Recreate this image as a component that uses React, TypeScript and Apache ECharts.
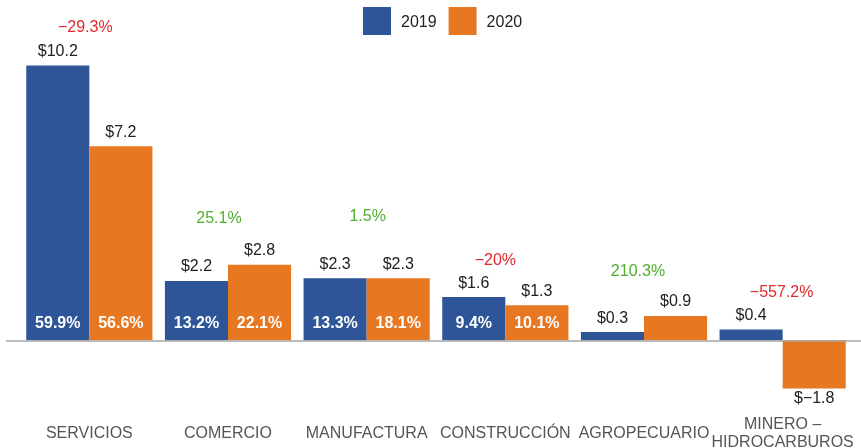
import React, { useEffect, useRef } from "react";
import * as echarts from "echarts";

const categories = ["SERVICIOS", "COMERCIO", "MANUFACTURA", "CONSTRUCCIÓN", "AGROPECUARIO", "MINERO –\nHIDROCARBUROS"];
const values2019 = [10.2, 2.2, 2.3, 1.6, 0.3, 0.4];
const values2020 = [7.2, 2.8, 2.3, 1.3, 0.9, -1.8];
const share2019: (number | null)[] = [59.9, 13.2, 13.3, 9.4, null, null];
const share2020: (number | null)[] = [56.6, 22.1, 18.1, 10.1, null, null];
const changePct = [-29.3, 25.1, 1.5, -20, 210.3, -557.2];
const seriesNames = ["2019", "2020"];

// styling (pixel tweaks for the change labels)
const changeDx = [-4, -9, 1, -10, -6, -1];
const changeDy = [39, 47, 63, 38, 45, 38];

const FONT = '"Liberation Sans", Arial, sans-serif';
const BLUE = "#2E5597";
const ORANGE = "#E87722";
const RED = "#E0282E";
const GREEN = "#4FAE2E";
const GAP = 0.09;

const fmtMoney = (v: number) => "$" + (v < 0 ? "−" + Math.abs(v).toFixed(1) : v.toFixed(1));
const fmtChange = (v: number) => (v < 0 ? "−" : "") + String(Math.abs(v)) + "%";

export default function App() {
  const ref = useRef<HTMLDivElement>(null);
  useEffect(() => {
    if (!ref.current) return;
    const chart = echarts.init(ref.current, null, { renderer: "svg" });
    const barLabel = (vals: number[]) =>
      vals.map((v) => ({
        value: v,
        label: {
          show: true,
          position: v < 0 ? "bottom" : "top",
          distance: v < 0 ? 1 : 7,
          formatter: () => fmtMoney(v),
          color: "#222",
          fontSize: 16,
          fontFamily: FONT,
        },
      }));
    chart.setOption({
      animation: false,
      legend: {
        left: 358,
        top: 2,
        itemWidth: 28,
        itemHeight: 28,
        itemGap: 12,
        icon: "rect",
        textStyle: { fontSize: 16, color: "#222", fontFamily: FONT, padding: [0, 0, 0, 5] },
        data: seriesNames,
      },
      grid: { left: 20, right: 9, top: 44, bottom: 54, outerBoundsMode: "none", containLabel: false },
      xAxis: {
        type: "category",
        data: categories,
        axisLine: { show: false, onZero: false },
        axisTick: { show: false },
        axisLabel: {
          color: "#555",
          fontSize: 16,
          fontFamily: FONT,
          verticalAlign: "middle",
          lineHeight: 18,
          margin: 38,
          interval: 0,
        },
      },
      yAxis: {
        type: "value",
        min: -2,
        max: 11,
        show: false,
        splitLine: { show: false },
      },
      series: [
        {
          name: seriesNames[0],
          type: "bar",
          data: barLabel(values2019),
          itemStyle: { color: BLUE },
          barGap: "0%",
          barCategoryGap: GAP * 100 + "%",
        },
        {
          name: seriesNames[1],
          type: "bar",
          data: barLabel(values2020),
          itemStyle: { color: ORANGE },
          barGap: "0%",
          barCategoryGap: GAP * 100 + "%",
        },
        {
          type: "custom",
          z: 10,
          silent: true,
          data: categories.map((_, i) => [i, 0]),
          renderItem: (params: any, api: any) => {
            const i = params.dataIndex;
            const zero = api.coord([i, 0]);
            const band = api.size([1, 0])[0];
            const bw = (band * (1 - GAP)) / 2;
            const top = api.coord([i, Math.max(values2019[i], values2020[i], 0)]);
            const children: any[] = [
              {
                type: "text",
                style: {
                  text: fmtChange(changePct[i]),
                  x: zero[0] + changeDx[i],
                  y: top[1] - changeDy[i],
                  align: "center",
                  verticalAlign: "middle",
                  fill: changePct[i] < 0 ? RED : GREEN,
                  fontSize: 16,
                  fontFamily: FONT,
                },
              },
            ];
            const shares = [share2019[i], share2020[i]];
            shares.forEach((s, k) => {
              if (s == null) return;
              children.push({
                type: "text",
                style: {
                  text: s.toFixed(1) + "%",
                  x: zero[0] + (k === 0 ? -bw / 2 : bw / 2),
                  y: zero[1] - 18,
                  align: "center",
                  verticalAlign: "middle",
                  fill: "#fff",
                  fontSize: 16,
                  fontWeight: "bold",
                  fontFamily: FONT,
                },
              });
            });
            return { type: "group", children };
          },
        },
      ],
    });
    const y0 = chart.convertToPixel({ yAxisIndex: 0 }, 0) as number;
    chart.setOption({
      graphic: [
        {
          type: "line",
          z: 5,
          shape: { x1: 6, y1: y0 + 0.8, x2: 861, y2: y0 + 0.8 },
          style: { stroke: "#a6a6a6", lineWidth: 1.6 },
        },
      ],
    });
    return () => chart.dispose();
  }, []);
  return <div ref={ref} style={{ position: "fixed", left: 0, top: 0, width: 861, height: 448 }} />;
}
